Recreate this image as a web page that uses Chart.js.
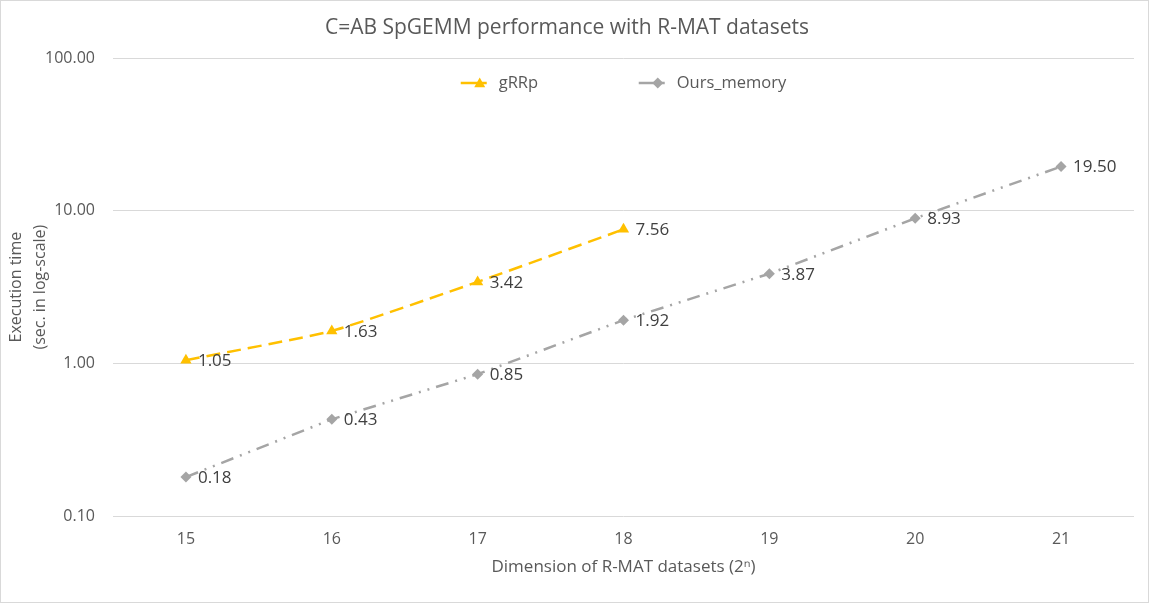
<!DOCTYPE html>
<html>
<head>
<meta charset="utf-8">
<script src="https://cdn.jsdelivr.net/npm/chart.js@4"></script>
<style>
  html, body { margin: 0; padding: 0; background: #fff; }
  #wrap { width: 1149px; height: 603px; }
</style>
</head>
<body>
<div id="wrap"><canvas id="chart"></canvas></div>
<script>
const dimensions = ['15', '16', '17', '18', '19', '20', '21'];
const gRRp = [1.05, 1.63, 3.42, 7.56, null, null, null];
const oursMemory = [0.18, 0.43, 0.85, 1.92, 3.87, 8.93, 19.5];
const yTicks = [0.1, 1, 10, 100];

const FONT = '"Open Sans", "Noto Sans", sans-serif';
const TEXT = '#595959';

// small legend sample: dashed line with the marker on it
const drawMarker = (ctx, style, x, y, r, color) => {
  ctx.fillStyle = color;
  ctx.beginPath();
  if (style === 'triangle') {
    ctx.moveTo(x, y - r);
    ctx.lineTo(x + r, y + r * 0.75);
    ctx.lineTo(x - r, y + r * 0.75);
  } else {
    ctx.moveTo(x, y - r);
    ctx.lineTo(x + r, y);
    ctx.lineTo(x, y + r);
    ctx.lineTo(x - r, y);
  }
  ctx.closePath();
  ctx.fill();
};

const customLegend = {
  id: 'customLegend',
  afterDraw(chart) {
    const ctx = chart.ctx;
    const area = chart.chartArea;
    const ds = chart.data.datasets;
    const colW = 178;
    ctx.save();
    ctx.font = '16.5px ' + FONT;
    const lastW = 38 + ctx.measureText(ds[ds.length - 1].label).width;
    const total = colW * (ds.length - 1) + lastW;
    let x = (area.left + area.right) / 2 - total / 2;
    const y = 83;
    ds.forEach((d) => {
      ctx.strokeStyle = d.borderColor;
      ctx.lineWidth = 2.5;
      ctx.setLineDash([]);
      ctx.beginPath();
      ctx.moveTo(x, y);
      ctx.lineTo(x + 26, y);
      ctx.stroke();
      drawMarker(ctx, d.pointStyle, x + 19, y, 5.5, d.borderColor);
      ctx.fillStyle = TEXT;
      ctx.textBaseline = 'middle';
      ctx.textAlign = 'left';
      ctx.fillText(d.label, x + 38, y);
      x += colW;
    });
    ctx.restore();
  },
};

const valueLabels = {
  id: 'valueLabels',
  afterDatasetsDraw(chart) {
    const ctx = chart.ctx;
    ctx.save();
    ctx.font = '17px ' + FONT;
    ctx.fillStyle = '#404040';
    ctx.textBaseline = 'middle';
    ctx.textAlign = 'left';
    chart.data.datasets.forEach((ds, i) => {
      chart.getDatasetMeta(i).data.forEach((pt, j) => {
        const v = ds.data[j];
        if (v == null) return;
        ctx.fillText(v.toFixed(2), pt.x + 12, pt.y + 1);
      });
    });
    ctx.restore();
  },
};

const frame = {
  id: 'frame',
  beforeDraw(chart) {
    const ctx = chart.ctx;
    ctx.save();
    ctx.fillStyle = '#fff';
    ctx.fillRect(0, 0, chart.width, chart.height);
    ctx.strokeStyle = '#d9d9d9';
    ctx.lineWidth = 1;
    ctx.strokeRect(0.5, 0.5, chart.width - 1, chart.height - 1);
    ctx.restore();
  },
};

const data = {
  labels: dimensions,
  datasets: [
    {
      label: 'gRRp',
      data: gRRp,
      borderColor: '#FFC000',
      backgroundColor: '#FFC000',
      borderWidth: 2.5,
      borderDash: [14, 7],
      pointStyle: 'triangle',
      pointRadius: 6.5,
      pointBackgroundColor: '#FFC000',
      pointBorderWidth: 0,
      tension: 0.15,
    },
    {
      label: 'Ours_memory',
      data: oursMemory,
      borderColor: '#A5A5A5',
      backgroundColor: '#A5A5A5',
      borderWidth: 2.5,
      borderDash: [13, 7, 2, 7, 2, 7],
      pointStyle: 'rectRot',
      pointRadius: 5.5,
      pointBackgroundColor: '#A5A5A5',
      pointBorderWidth: 0,
      tension: 0,
    },
  ],
};

const config = {
  type: 'line',
  data: data,
  plugins: [frame, valueLabels, customLegend],
  options: {
    responsive: true,
    maintainAspectRatio: false,
    animation: false,
    layout: {
      padding: { left: 0, right: 15, top: 0, bottom: 0 },
    },
    plugins: {
      legend: { display: false },
      tooltip: { enabled: false },
      title: {
        display: true,
        text: 'C=AB SpGEMM performance with R-MAT datasets',
        color: TEXT,
        font: { family: FONT, size: 21, weight: 'normal' },
        padding: { top: 15, bottom: 18 },
      },
    },
    scales: {
      x: {
        offset: true,
        grid: { display: false, drawTicks: false, offset: true },
        border: { display: false },
        ticks: {
          color: TEXT,
          font: { family: FONT, size: 16 },
          padding: 14,
        },
        title: {
          display: true,
          text: 'Dimension of R-MAT datasets (2ⁿ)',
          color: TEXT,
          font: { family: FONT, size: 17 },
          padding: { top: 0, bottom: 26 },
        },
        afterFit: (scale) => {
          scale.height = 87;
        },
      },
      y: {
        type: 'logarithmic',
        min: 0.1,
        max: 100,
        grid: { color: '#d9d9d9', drawTicks: false },
        border: { display: false },
        afterBuildTicks: (scale) => {
          scale.ticks = yTicks.map((v) => ({ value: v }));
        },
        ticks: {
          color: TEXT,
          font: { family: FONT, size: 16 },
          padding: 18,
          callback: (v) => Number(v).toFixed(2),
        },
        title: {
          display: true,
          text: ['Execution time', '(sec. in log-scale)'],
          color: TEXT,
          font: { family: FONT, size: 16, lineHeight: 1.5 },
          padding: { top: 4, bottom: 0 },
        },
        afterFit: (scale) => {
          scale.width = 113;
        },
      },
    },
  },
};

new Chart(document.getElementById('chart'), config);
</script>
</body>
</html>
